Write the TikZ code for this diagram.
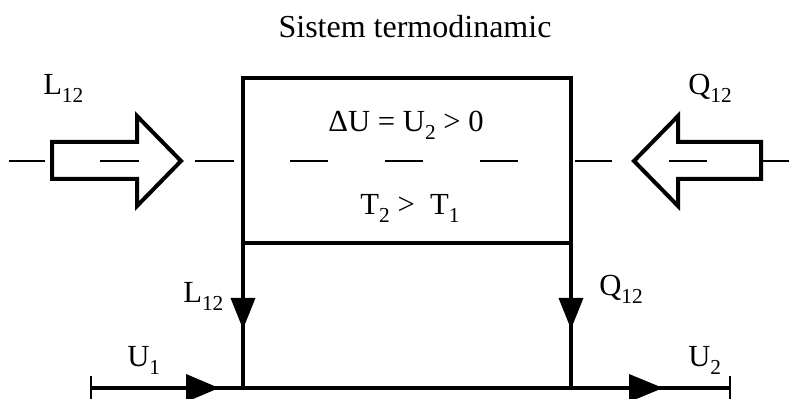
\documentclass[tikz,border=0pt]{standalone}
\usepackage{fontspec}
\setmainfont{Liberation Serif}
\newcommand\lowidx[1]{\raisebox{-0.25em}{\fontsize{16}{16}\selectfont #1}}
\begin{document}
\begin{tikzpicture}[x=0.75pt,y=-0.75pt,
  thickline/.style={line width=3.3pt},
  thinline/.style={line width=0.8pt},
  bigarrow/.style={line width=3pt,line join=miter},
  tri/.style={fill=black,draw=none},
  lbl/.style={inner sep=0pt,anchor=base west,font=\fontsize{23}{27}\selectfont},
  clbl/.style={inner sep=0pt,anchor=base,font=\fontsize{23}{27}\selectfont},
  ttl/.style={inner sep=0pt,anchor=base,font=\fontsize{24}{28}\selectfont}]
\useasboundingbox (0,0) rectangle (790,399);
% coordinates
\coordinate (BTL) at (243,78);
\coordinate (BBR) at (571,243);
\coordinate (BL) at (243,243);
\coordinate (BR) at (571,243);
\coordinate (FL) at (243,388);
\coordinate (FR) at (571,388);
\coordinate (S) at (91,388);
\coordinate (E) at (730,388);
% box
\draw[thickline] (BTL) rectangle (BBR);
\draw[thickline] (BL) -- (FL);
\draw[thickline] (BR) -- (FR);
\draw[thickline] (S) -- (E);
% end ticks
\draw[thinline] (91,376) -- (91,399);
\draw[thinline] (730,376) -- (730,399);
% dashed centre line
\foreach \a/\b in {9/45,100/139,195/234,290/328,385/423,480/518,575/612,669/707,762/789}
  \draw[thinline] (\a,161) -- (\b,161);
% big hollow arrows
\draw[bigarrow] (52,142) -- (137,142) -- (137,116) -- (181,161) -- (137,206) -- (137,179) -- (52,179) -- cycle;
\draw[bigarrow] (761,142) -- (678,142) -- (678,116) -- (634,161) -- (678,206) -- (678,179) -- (761,179) -- cycle;
% filled triangles
\fill[tri] (230.5,298) -- (255.5,298) -- (243,329) -- cycle;
\fill[tri] (558.5,298) -- (583.5,298) -- (571,329) -- cycle;
\fill[tri] (186,374) -- (186,402) -- (219,388) -- cycle;
\fill[tri] (629,374) -- (629,402) -- (663,388) -- cycle;
% texts
\node[ttl] (title) at (415,38) {Sistem termodinamic};
\node[lbl] (l12a) at (43,95) {L\lowidx{12}};
\node[lbl] (q12a) at (688,95) {Q\lowidx{12}};
\node[clbl] (du) at (406,132) {ΔU = U\lowidx{2} > 0};
\node[clbl] (tt) at (410,215) {T\lowidx{2} >\ \ T\lowidx{1}};
\node[lbl] (l12b) at (183,303) {L\lowidx{12}};
\node[lbl] (q12b) at (599,296) {Q\lowidx{12}};
\node[lbl] (u1) at (127,367) {U\lowidx{1}};
\node[lbl] (u2) at (688,367) {U\lowidx{2}};
\end{tikzpicture}
\end{document}
